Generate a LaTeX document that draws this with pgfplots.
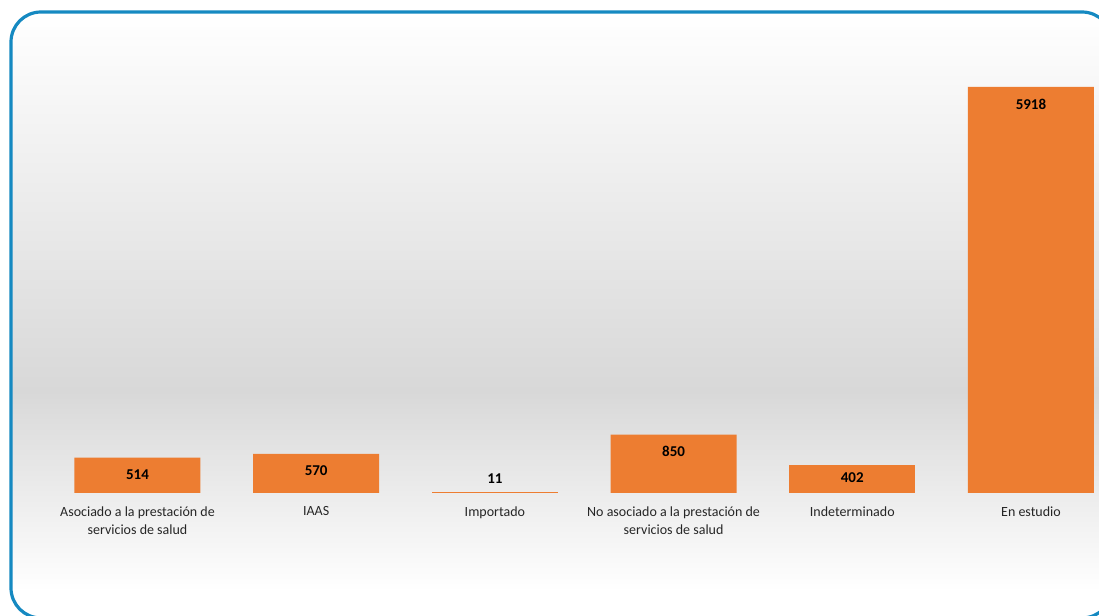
\documentclass[border=0pt]{standalone}
\usepackage{pgfplots}
\pgfplotsset{compat=1.18}
\usepackage{fontspec}
\setmainfont{Carlito}
\definecolor{barorange}{HTML}{ED7D31}
\definecolor{frameblue}{HTML}{1589C1}
\definecolor{bggray}{HTML}{D8D8D8}
\begin{document}
\begin{tikzpicture}[x=1bp,y=1bp]
\fill[white] (0,0) rectangle (1099,616);
\clip (0,0) rectangle (1099,616);
\begin{scope}[overlay]
\clip[rounded corners=30bp] (11,-2) rectangle (1112,604);
\shade[top color=white, bottom color=bggray] (0,225) rectangle (1099,604);
\shade[top color=bggray, bottom color=white] (0,25) rectangle (1099,225.5);
\end{scope}
\begin{axis}[
  at={(39.2bp,123bp)}, anchor=south west,
  scale only axis, width=1059.7bp, height=446bp,
  xmin=-0.55, xmax=5.38, ymin=0, ymax=6500,
  axis line style={draw=none},
  xtick={0,1,2,3,4,5}, major tick length=0pt,
  xtick style={draw=none}, ytick=\empty,
  xticklabels={{Asociado a la prestación de\\servicios de salud},IAAS,Importado,{No asociado a la prestación de\\servicios de salud},Indeterminado,En estudio},
  xticklabel style={align=center, anchor=north, font=\fontsize{14bp}{18bp}\selectfont, text=black!85, yshift=-10bp},
  /pgf/number format/assume math mode=true,
  /pgf/number format/1000 sep={},
  ybar, bar width=126bp, bar shift=0pt,
  clip=false,
]
\addplot[fill=barorange, draw=none,
  nodes near coords,
  every node near coord/.append style={anchor=center, yshift=-17bp, font=\fontsize{15bp}{17bp}\selectfont\bfseries, text=black}]
  coordinates {(0,514) (1,570) (3,850) (5,5918)};
\addplot[fill=barorange, draw=none,
  nodes near coords,
  every node near coord/.append style={anchor=center, yshift=-12bp, font=\fontsize{15bp}{17bp}\selectfont\bfseries, text=black}]
  coordinates {(4,402)};
\addplot[fill=barorange, draw=none,
  nodes near coords,
  every node near coord/.append style={anchor=center, yshift=14bp, font=\fontsize{15bp}{17bp}\selectfont\bfseries, text=black}]
  coordinates {(2,11)};
\end{axis}
\draw[overlay, frameblue, line width=3.2bp, rounded corners=30bp] (11,-2) rectangle (1112,604);
\end{tikzpicture}
\end{document}
